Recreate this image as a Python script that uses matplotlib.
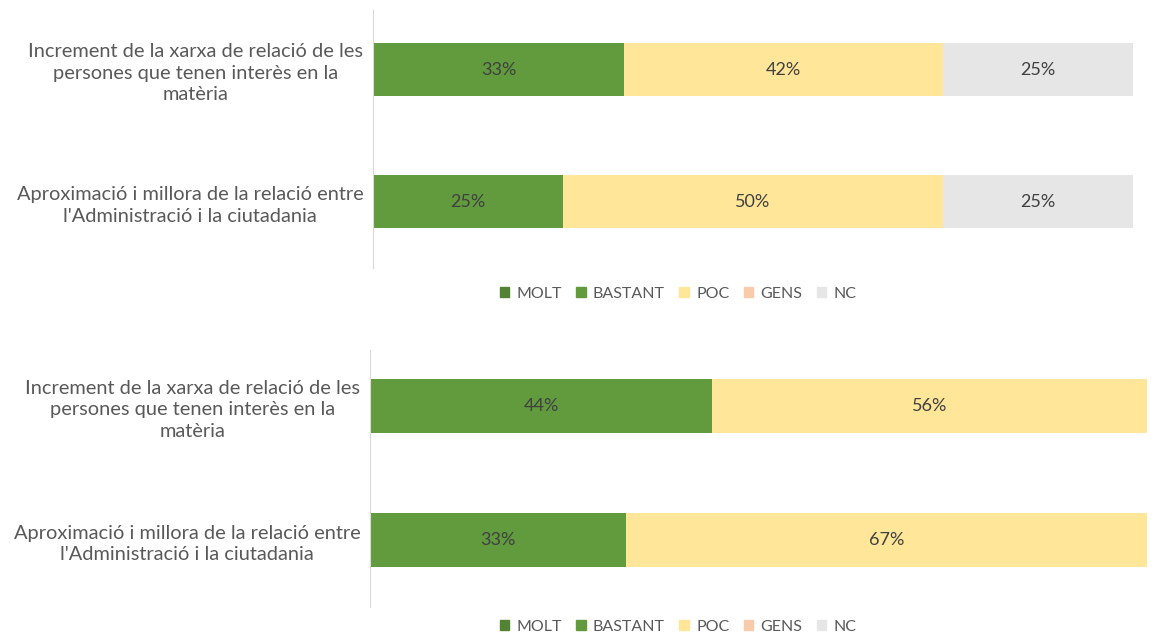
# Two stacked horizontal bar charts (percentages per category)

import matplotlib
matplotlib.use('Agg')
from matplotlib import pyplot as plt
from matplotlib.patches import Patch

plt.rcParams['font.family'] = ['Lato', 'DejaVu Sans']

categories = ["Increment de la xarxa de relació de les\npersones que tenen interès en la\nmatèria",
              "Aproximació i millora de la relació entre\nl'Administració i la ciutadania"]
series = ['MOLT', 'BASTANT', 'POC', 'GENS', 'NC']
colors = ['#548235', '#629B3E', '#FFE699', '#F8CBAD', '#E7E6E6']

top_values = {
    'MOLT': [0, 0],
    'BASTANT': [33, 25],
    'POC': [42, 50],
    'GENS': [0, 0],
    'NC': [25, 25],
}
bottom_values = {
    'MOLT': [0, 0],
    'BASTANT': [44, 33],
    'POC': [56, 67],
    'GENS': [0, 0],
    'NC': [0, 0],
}

W, H = 1171, 637
fig = plt.figure(figsize=(W / 100, H / 100), dpi=100)


def draw(values, left, right, top, bottom, legend_y, ylim):
    ax = fig.add_axes([left / W, 1 - bottom / H, (right - left) / W, (bottom - top) / H])
    pos = [0, 1]
    start = [0, 0]
    for s, c in zip(series, colors):
        vals = values[s]
        ax.barh(pos, vals, left=start, height=0.4, color=c)
        for i in range(len(pos)):
            if vals[i] > 0:
                ax.text(start[i] + vals[i] / 2, pos[i], f'{vals[i]}%', ha='center', va='center',
                        fontsize=13, color='#404040')
        start = [a + b for a, b in zip(start, vals)]
    ax.set_xlim(0, 100)
    ax.set_ylim(*ylim)
    ax.set_yticks(pos)
    ax.set_yticklabels(categories, fontsize=14.4, color='#595959', multialignment='center',
                       linespacing=1.3)
    ax.tick_params(axis='y', length=0, pad=7)
    ax.set_xticks([])
    for sp in ['top', 'right', 'bottom']:
        ax.spines[sp].set_visible(False)
    ax.spines['left'].set_color('#D9D9D9')
    handles = [Patch(color=c, label=s) for s, c in zip(series, colors)]
    fig.legend(handles=handles, loc='center', bbox_to_anchor=(678 / W, 1 - legend_y / H),
               ncol=5, frameon=False, fontsize=11.5, labelcolor='#595959',
               handlelength=0.6, handleheight=0.6, handletextpad=0.45, columnspacing=0.9)
    return ax


draw(top_values, 373, 1133, 10, 268, 294, (1.5, -0.45))
draw(bottom_values, 370, 1147, 350, 607, 627, (1.5, -0.42))

fig.savefig('out.png', dpi=100, facecolor='white')
